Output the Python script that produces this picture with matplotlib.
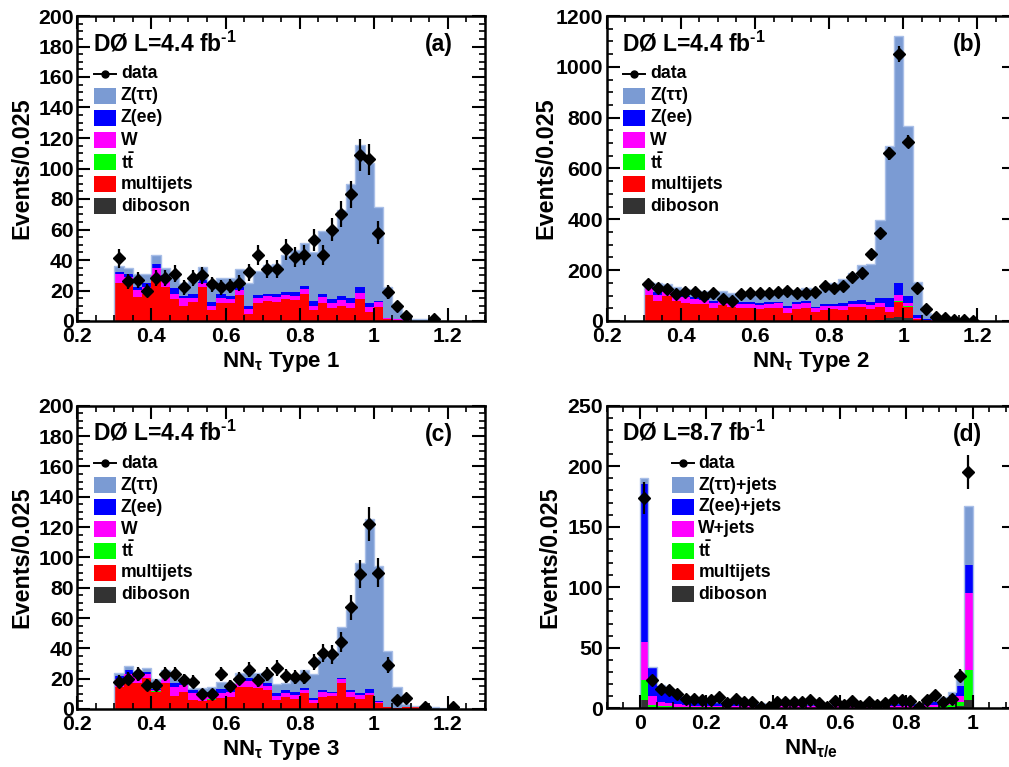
import numpy as np
import matplotlib
matplotlib.use("Agg")
import matplotlib.pyplot as plt
from matplotlib.ticker import MultipleLocator
from matplotlib.lines import Line2D
from matplotlib.patches import Rectangle

plt.rcParams["font.family"] = ["Liberation Sans", "DejaVu Sans"]
plt.rcParams["font.weight"] = "bold"
plt.rcParams["axes.labelweight"] = "bold"
plt.rcParams["mathtext.fontset"] = "custom"
plt.rcParams["mathtext.rm"] = "Liberation Sans:bold"
plt.rcParams["mathtext.it"] = "Liberation Sans:bold"
plt.rcParams["mathtext.bf"] = "Liberation Sans:bold"
plt.rcParams["mathtext.default"] = "rm"

nan = np.nan
BIN_W = 0.025

# ---- panel (a): NN_tau type 1, bins start at 0.3
a_multijets = [25, 24.7, 16, 18, 27, 22, 14.4, 10, 12.7, 22, 7.2, 11.6, 11.6, 17, 4.4,
               11.6, 13, 12.7, 14.4, 13.8, 17.7, 7.2, 12, 8.7, 10, 8.7, 14.4, 6.1, 9.4, 1,
               0.5, 0.2, 0, 0, 0]
a_w = [5.6, 4.3, 4.5, 4.5, 8, 6, 3.6, 5.3, 2.6, 3, 2.8, 3.7, 2.8, 3.3, 3.2,
       3.7, 3.4, 3.3, 2.6, 2.8, 3.1, 2.8, 3.5, 3.3, 3.8, 3.3, 4.2, 3.3, 2.8, 0.7,
       0.5, 0.2, 0, 0, 0]
a_zee = [1.7, 1.8, 2, 2.2, 2.4, 2, 3.4, 1.1, 2.2, 2, 2.7, 2.2, 2, 2.2, 2.4,
         1.7, 1.6, 2, 1.8, 2.2, 2.2, 3, 2.2, 2.4, 2.6, 3.3, 3.9, 2.2, 1.1, 0.3,
         0.2, 0.1, 0.1, 0, 0]
a_ztt = [3.7, 4.2, 8.5, 6.3, 5.6, 5, 6.6, 8.6, 8.5, 8.6, 13.3, 10.9, 12, 11.5, 14.7,
         16, 18.7, 19.4, 24.2, 27.7, 28.4, 32.5, 41.3, 44.6, 56.6, 74.7, 93.1, 91.8, 61.2, 20.5,
         7.1, 2.3, 1.1, 1, 0.5]
a_data = [41, 26, 27, 20, 28, 28, 31, 22, 28, 30, 24, 22, 23, 25, 32,
          43, 34, 34, 47, 42, 43, 53, 43, 60, 70, 83, 109, 106, 58, 19,
          10, 3, nan, nan, 1]

# ---- panel (b): NN_tau type 2, bins start at 0.3
b_diboson = [0, 0, 0, 0, 0, 0, 0, 0, 0, 0, 0, 0, 0, 0, 0, 0, 0, 0,
             0, 0, 0, 0, 0, 0, 0, 3, 13, 17, 13, 1, 0, 0, 0, 0, 0, 0]
b_multijets = [102, 79, 98, 79, 70, 66, 67, 52, 63, 56, 50, 50, 47, 50, 52, 33, 47, 50,
               37, 43, 46, 43, 54, 56, 46, 51, 21, 59, 41, 7, 2, 1, 0.5, 0, 0, 0]
b_ttbar = [0, 0, 0, 0, 0, 0, 0, 0, 0, 0, 0, 0, 0, 0, 0, 0, 0, 0,
           0, 0, 0, 0, 0, 0, 0, 0, 1, 3, 5, 0, 0, 0, 0, 0, 0, 0]
b_w = [26, 23, 21, 21, 23, 19, 16, 20, 16, 16, 17, 16, 16, 16, 18, 17, 20, 20,
       13, 16, 14, 16, 13, 11, 17, 18, 22, 23, 11, 5, 2, 1, 0.5, 0, 0, 0]
b_zee = [12, 13, 6, 9, 5, 11, 10, 7, 8, 7, 9, 10, 9, 8, 6, 10, 9, 9,
         6, 7, 7, 11, 12, 16, 10, 20, 33, 46, 28, 11, 4, 1, 0.5, 0, 0, 0]
b_ztt = [15, 33, 19, 26, 27, 23, 26, 39, 31, 30, 30, 33, 34, 32, 42, 49, 46, 52,
         66, 62, 81, 94, 111, 139, 153, 305, 600, 975, 670, 131, 22, 7, 3.5, 2.5, 2, 1]
b_data = [144, 128, 125, 105, 115, 113, 100, 109, 87, 80, 106, 109, 109, 109, 113, 119, 109, 111,
          115, 139, 128, 139, 174, 190, 262, 345, 660, 1050, 706, 131, 46, 17, 13, 3, 2, 1]

# ---- panel (c): NN_tau type 3, bins start at 0.3
c_multijets = [14.7, 17.4, 17, 20.2, 11.4, 17, 8.8, 11.4, 5.9, 5.5, 5.9, 7.5, 7.7,
               14.7, 14.3, 14, 12.5, 5.9, 8.1, 6.6, 10.8, 3.7, 8.1, 8.6, 16.9, 8.1,
               6.4, 9.2, 4.2, 1, 0.5, 1, 1, 0.8, 0, 0, 0]
c_ttbar = [0, 0, 0, 0, 0.5, 0, 0, 0, 0, 0, 0.4, 0, 0, 0, 0, 0, 0, 0, 0,
           0, 0, 0, 0, 0, 0, 0, 0, 0, 0, 0, 0, 0, 0, 0, 0, 0, 0]
c_w = [5.3, 5.6, 4.3, 2.7, 0.6, 5.4, 5.9, 4.4, 4.4, 3.7, 2.9, 3.3, 3.7,
       4, 4.2, 4, 2.7, 2.7, 2.7, 2.9, 1.7, 2.2, 3.3, 1.7, 2.9, 3.3,
       2.8, 1.6, 0.6, 0.2, 0.2, 0, 0, 0, 0, 0, 0]
c_zee = [2, 2.7, 2.2, 1.7, 1, 1.6, 2.3, 2.2, 2.2, 2.2, 2.2, 2.2, 2.2,
         2.2, 1.7, 1.8, 1.8, 2.2, 1.7, 1.5, 1.1, 1.1, 1.1, 1.1, 0.9, 1.1,
         1.1, 2.2, 0.7, 0.3, 0.2, 0, 0, 0, 0, 0, 0]
c_ztt = [1.5, 2.7, 1.5, 2.2, 6.5, 1.7, 5.4, 2.2, 1.1, 2.2, 2.9, 4.6, 3.4,
         3.1, 3.8, 3.7, 6.5, 5.5, 4.9, 10, 12.4, 16, 22, 23.1, 33.3, 52.5,
         85.7, 112, 88.5, 36.5, 13.4, 2.3, 1, 0.2, 1, 0.5, 0.5]
c_data = [18, 20, 23, 16, 16, 23, 23, 19, 18, 10, 10, 23, 15,
          20, 26, 19, 23, 27, 22, 21, 21, 31, 37, 36, 44, 67,
          89, 122, 90, 29, 6, 7, nan, 1, nan, nan, 1]

# ---- panel (d): NN_tau/e, bins start at 0
d_diboson = [7, 1, 0.5, 0.5, 0.5, 0.5, 0.5, 0.5, 0.5, 0.5,
             0.3, 0.3, 0.3, 0.3, 0.3, 0.3, 0.3, 0.3, 0.3, 0.3,
             0.3, 0.3, 0.3, 0.3, 0.3, 0.3, 0.3, 0.3, 0.3, 0.3,
             0.3, 0.3, 0.3, 0.3, 0.5, 0.5, 0.5, 1, 2, 7]
d_ttbar = [16, 2, 1.5, 1, 0.5, 0.3, 0.2, 0.2, 0.2, 0.2,
           0.2, 0.2, 0.2, 0.2, 0.2, 0.2, 0.2, 0.2, 0.2, 0.2,
           0.2, 0.2, 0.2, 0.2, 0.2, 0.2, 0.2, 0.2, 0.2, 0.2,
           0.2, 0.2, 0.2, 0.2, 0.5, 0.5, 1.5, 1.8, 3, 24.7]
d_w = [32, 7.2, 3.5, 3.2, 2.6, 2, 1.5, 1.5, 1.3, 1.3,
       1.4, 1.4, 1.4, 1.4, 1.3, 1.3, 1.3, 1.3, 1.3, 1.3,
       1.3, 1.3, 1.3, 1.3, 1.3, 1.3, 1.3, 1.3, 1.3, 1.3,
       1.4, 1.4, 1.4, 1.5, 1.8, 1.8, 2.1, 4.1, 5, 63.3]
d_zee = [130, 23.4, 12.9, 11, 8.2, 5.5, 4.7, 3.8, 3.5, 3,
         2.6, 2.3, 2, 1.8, 1.6, 1.5, 1.5, 1.4, 1.4, 1.4,
         1.4, 1.4, 1.4, 1.4, 1.4, 1.4, 1.4, 1.4, 1.4, 1.5,
         1.5, 1.6, 1.7, 1.8, 1.9, 2.7, 2.8, 4.1, 8.5, 23.4]
d_ztt = [5.5, 0.8, 0.9, 0.8, 1.2, 0.7, 0.8, 0.9, 0.8, 0.5,
         0.6, 0.6, 0.6, 0.6, 0.6, 0.6, 0.6, 0.6, 0.6, 0.6,
         0.6, 0.6, 0.6, 0.6, 0.6, 0.6, 0.6, 0.6, 0.6, 0.6,
         0.6, 0.6, 0.7, 0.7, 0.8, 1.4, 2.1, 2.8, 6.5, 49]
d_data = [174, 23, 16, 15, 12, 8, 8, 7, 7, 9, 4, 8, 5, 5, 1, 1, 5, 5, 5, 5,
          7, 4, 1, 6, 3, 6, 2, 5, 3, 4, 7, 7, 6, 1, 7, 11, 5, 8, 27, 195]

COLORS = {"diboson": "#333333", "multijets": "#ff0000", "ttbar": "#00ff00",
          "W": "#ff00ff", "Zee": "#0000ff", "Ztt": "#7b9bd3"}
STACK = ["diboson", "multijets", "ttbar", "W", "Zee", "Ztt"]
LEGEND_ORDER = ["Ztt", "Zee", "W", "ttbar", "multijets", "diboson"]

W_PX, H_PX = 1009, 767
fig = plt.figure(figsize=(W_PX / 100, H_PX / 100), dpi=100)


def px_axes(left, top, right, bottom):
    return fig.add_axes([left / W_PX, 1 - bottom / H_PX,
                         (right - left) / W_PX, (bottom - top) / H_PX])


def draw_legend(ax, x0, labels):
    y0, dy = 0.81, 0.0722
    w, h = 22 / 408, 16 / 305
    tx = x0 + w + 0.012
    ax.add_line(Line2D([x0, x0 + w], [y0, y0], transform=ax.transAxes,
                       color="k", lw=1.4))
    ax.add_line(Line2D([x0 + w / 2], [y0], transform=ax.transAxes,
                       color="k", marker="o", ms=5))
    ax.text(tx, y0, "data", transform=ax.transAxes, va="center", fontsize=12.7)
    for i, key in enumerate(LEGEND_ORDER, start=1):
        y = y0 - i * dy
        ax.add_patch(Rectangle((x0, y - h / 2), w, h, transform=ax.transAxes,
                               facecolor=COLORS[key], edgecolor="none"))
        ax.text(tx, y, labels[key], transform=ax.transAxes, va="center",
                fontsize=12.7)


def draw_panel(ax, lo, comps, data, xlim, ylim, ymaj, ymin, lumi, tag,
               xlabel, labels, leg_x, ylab_x):
    n = len(data)
    edges = lo + BIN_W * np.arange(n + 1)
    centers = edges[:-1] + BIN_W / 2
    bottom = np.zeros(n)
    for key in STACK:
        if key not in comps:
            continue
        top = bottom + np.asarray(comps[key], dtype=float)
        ax.stairs(top, edges, baseline=bottom, fill=True,
                  color=COLORS[key], lw=0)
        bottom = top
    ax.stairs(bottom, edges, color="#a9bfe8", lw=1.0)

    d = np.asarray(data, dtype=float)
    ax.errorbar(centers, d, yerr=np.sqrt(d), fmt="D", color="k", ms=6,
                elinewidth=1.6, capsize=0, zorder=5)

    ax.set_xlim(*xlim)
    ax.set_ylim(*ylim)
    ax.xaxis.set_major_locator(MultipleLocator(0.2))
    ax.xaxis.set_minor_locator(MultipleLocator(0.05))
    ax.yaxis.set_major_locator(MultipleLocator(ymaj))
    ax.yaxis.set_minor_locator(MultipleLocator(ymin))
    ax.xaxis.set_major_formatter(plt.FuncFormatter(lambda v, p: f"{v:g}"))
    ax.tick_params(which="both", direction="in", top=True, right=True,
                   labelsize=15.3)
    ax.tick_params(which="major", length=9.5, width=1.5)
    ax.tick_params(which="minor", length=4.5, width=1.2)
    ax.tick_params(axis="x", pad=4)
    ax.tick_params(axis="y", pad=2.5)
    for sp in ax.spines.values():
        sp.set_linewidth(1.8)

    ax.set_ylabel("Events/0.025", fontsize=16.8)
    ax.yaxis.set_label_coords(ylab_x, 0.5)
    ax.set_xlabel(xlabel, fontsize=16)
    ax.xaxis.set_label_coords(0.5, -0.095)

    ax.text(0.038, 0.884, r"DØ L=%s fb$^{\text{-1}}$" % lumi, transform=ax.transAxes,
            fontsize=16.5, va="baseline")
    ax.text(0.92, 0.884, tag, transform=ax.transAxes, fontsize=16.5,
            va="baseline", ha="right")
    draw_legend(ax, leg_x, labels)


labels_abc = {"Ztt": "Z(ττ)", "Zee": "Z(ee)", "W": "W", "ttbar": r"$t\bar{t}$",
              "multijets": "multijets", "diboson": "diboson"}
labels_d = {"Ztt": "Z(ττ)+jets", "Zee": "Z(ee)+jets", "W": "W+jets",
            "ttbar": r"$t\bar{t}$", "multijets": "multijets", "diboson": "diboson"}

ax_a = px_axes(77.3, 16, 485, 321)
ax_b = px_axes(606.7, 16, 1014.5, 321)
ax_c = px_axes(77.3, 405.7, 485, 709)
ax_d = px_axes(606.7, 405.7, 1014.5, 708.3)

draw_panel(ax_a, 0.3, {"multijets": a_multijets, "W": a_w, "Zee": a_zee, "Ztt": a_ztt},
           a_data, (0.2, 1.3), (0, 200), 20, 5, "4.4", "(a)",
           r"NN$_{\tau}$ Type 1", labels_abc, 0.041, -0.108)
draw_panel(ax_b, 0.3, {"diboson": b_diboson, "multijets": b_multijets, "ttbar": b_ttbar,
                       "W": b_w, "Zee": b_zee, "Ztt": b_ztt},
           b_data, (0.2, 1.3), (0, 1200), 200, 50, "4.4", "(b)",
           r"NN$_{\tau}$ Type 2", labels_abc, 0.041, -0.12)
draw_panel(ax_c, 0.3, {"multijets": c_multijets, "ttbar": c_ttbar, "W": c_w,
                       "Zee": c_zee, "Ztt": c_ztt},
           c_data, (0.2, 1.3), (0, 200), 20, 5, "4.4", "(c)",
           r"NN$_{\tau}$ Type 3", labels_abc, 0.041, -0.108)
draw_panel(ax_d, 0.0, {"diboson": d_diboson, "ttbar": d_ttbar, "W": d_w,
                       "Zee": d_zee, "Ztt": d_ztt},
           d_data, (-0.1, 1.126), (0, 250), 50, 10, "8.7", "(d)",
           r"NN$_{\tau/e}$", labels_d, 0.159, -0.11)

fig.savefig("out.png", dpi=100)
